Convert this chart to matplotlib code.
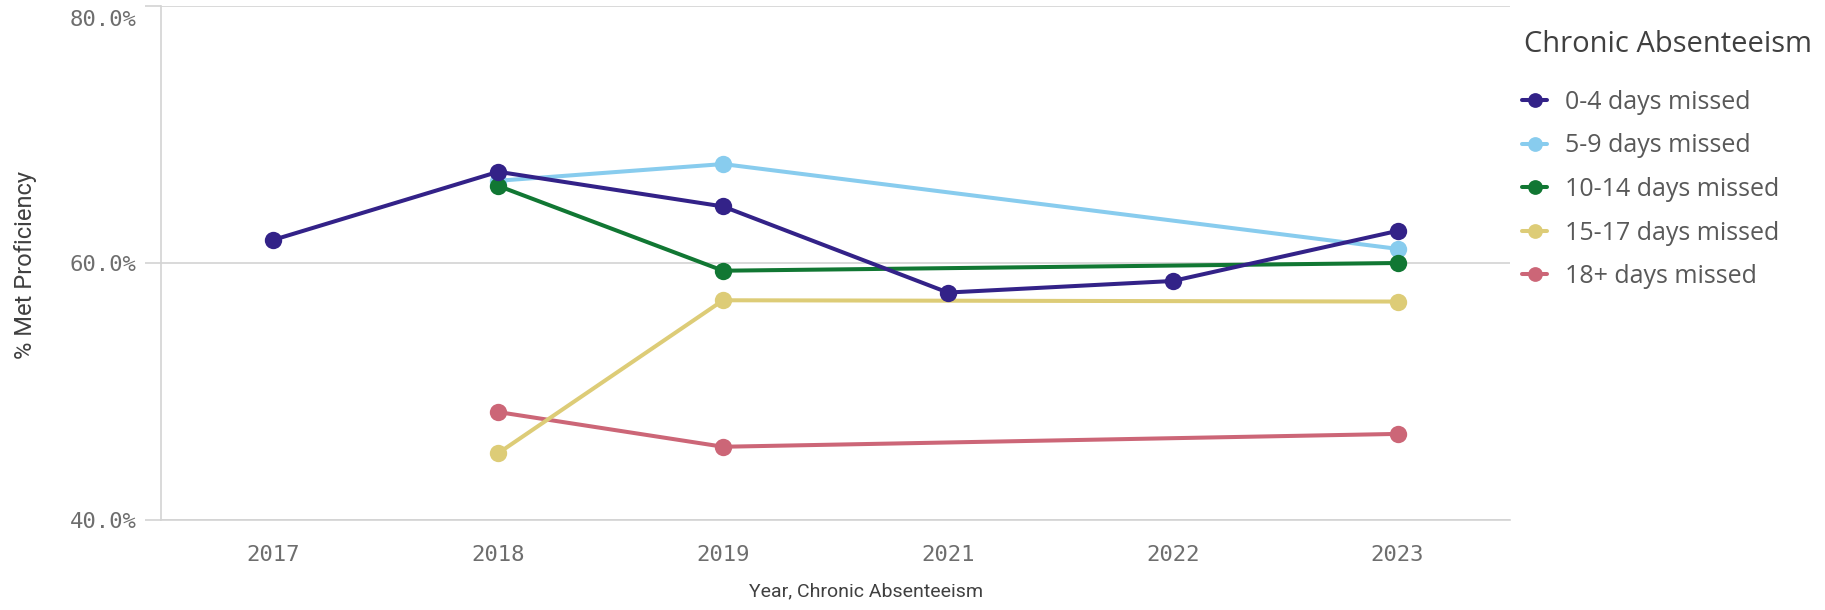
import numpy as np
import matplotlib
matplotlib.use("Agg")
import matplotlib.pyplot as plt
from matplotlib.ticker import FuncFormatter
from matplotlib.transforms import ScaledTranslation

# Years shown on the category axis (2020 has no data)
years = ["2017", "2018", "2019", "2021", "2022", "2023"]

# % met proficiency per absenteeism band (None = no value that year)
days_0_4 = [61.8, 67.1, 64.4, 57.7, 58.6, 62.5]
days_5_9 = [None, 66.4, 67.7, None, None, 61.1]
days_10_14 = [None, 66.0, 59.4, None, None, 60.0]
days_15_17 = [None, 45.2, 57.1, None, None, 57.0]
days_18_plus = [None, 48.4, 45.7, None, None, 46.7]

series_names = ["0-4 days missed", "5-9 days missed", "10-14 days missed",
                "15-17 days missed", "18+ days missed"]
series_values = [days_0_4, days_5_9, days_10_14, days_15_17, days_18_plus]
series_colors = ["#332288", "#88CCEE", "#117733", "#DDCC77", "#CC6677"]
series_z = [6, 2, 5, 4, 3]

grid_col = "#d3d3d3"
tick_col = "#6e6e6e"
label_col = "#404040"

W, H = 1825, 610
fig = plt.figure(figsize=(W / 100, H / 100), dpi=100)
ax = fig.add_axes([161 / W, 1 - 520 / H, (1510 - 161) / W, (520 - 6) / H])

x_idx = np.arange(len(years))
for name, vals, col, z in zip(series_names, series_values, series_colors, series_z):
    v = np.array([np.nan if a is None else a for a in vals], dtype=float)
    ok = ~np.isnan(v)
    ax.plot(x_idx[ok], v[ok], color=col, lw=2.9, marker="o", ms=12.5,
            markeredgewidth=0, label=name, zorder=z, solid_capstyle="round")

ax.set_xlim(-0.5, len(years) - 0.5)
ax.set_ylim(40, 80)
ax.set_xticks(x_idx)
ax.set_xticklabels(years)
ax.set_yticks([40, 60, 80])
ax.yaxis.set_major_formatter(FuncFormatter(lambda v, p: f"{v:.1f}%"))

for s in ["top", "right"]:
    ax.spines[s].set_visible(False)
ax.spines["left"].set_color(grid_col)
ax.spines["bottom"].set_color(grid_col)
ax.spines["left"].set_linewidth(1.2)
ax.spines["bottom"].set_linewidth(1.2)
ax.grid(axis="y", color=grid_col, lw=1.2, zorder=0)
ax.set_axisbelow(True)

ax.tick_params(axis="y", length=11.5, width=1.2, color=grid_col, pad=6,
               labelsize=16, labelcolor=tick_col)
ax.tick_params(axis="x", length=0, pad=18, labelsize=16, labelcolor=tick_col)
for lab in ax.get_xticklabels() + ax.get_yticklabels():
    lab.set_fontfamily("DejaVu Sans Mono")

# keep the top y label inside the figure
fig.canvas.draw()
top_lab = ax.get_yticklabels()[-1]
top_lab.set_transform(top_lab.get_transform()
                      + ScaledTranslation(0, -12 / 100, fig.dpi_scale_trans))

fig.text(26 / W, 1 - 265 / H, "% Met Proficiency", rotation=90,
         ha="center", va="center", fontsize=17, color=label_col,
         family="Roboto")
fig.text(866 / W, 1 - 591 / H, "Year, Chronic Absenteeism",
         ha="center", va="center", fontsize=14, color=label_col,
         family="Roboto")

# legend title and entries
fig.text(1524 / W, 1 - 45 / H, "Chronic Absenteeism", ha="left", va="center",
         fontsize=21, color=label_col, family="Open Sans")
leg = fig.legend(loc="upper left", bbox_to_anchor=(1522 / W, 1 - 90 / H),
                 frameon=False,
                 prop={"family": "Open Sans", "size": 18},
                 handlelength=1.0, handletextpad=0.72, labelspacing=0.74,
                 markerscale=0.85, borderaxespad=0, borderpad=0)
for t in leg.get_texts():
    t.set_color("#595959")

fig.savefig("out.png", dpi=100, facecolor="white")
